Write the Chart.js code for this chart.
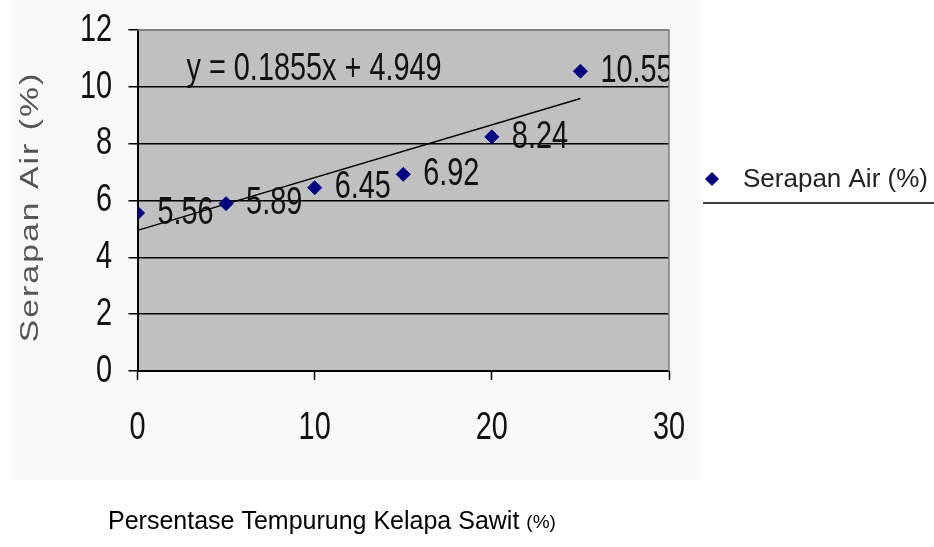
<!DOCTYPE html>
<html>
<head>
<meta charset="utf-8">
<script src="https://cdn.jsdelivr.net/npm/chart.js@4.4.1/dist/chart.umd.min.js"></script>
<style>
  html, body { margin: 0; padding: 0; background: #fff; }
  #wrap { width: 934px; height: 547px; }
</style>
</head>
<body>
<div id="wrap"><canvas id="myChart" width="934" height="547"></canvas></div>
<script>
// data
const kadarTempurung = [0, 5, 10, 15, 20, 25];
const serapanAir = [5.56, 5.89, 6.45, 6.92, 8.24, 10.55];
const trenX = [0, 25];
const trenY = [4.949, 9.5865];
const persamaan = 'y = 0.1855x + 4.949';
const judulX = 'Persentase Tempurung Kelapa Sawit';
const judulY = 'Serapan Air (%)';
const namaSeri = 'Serapan Air (%)';

const huruf = '"Liberation Sans", Arial, sans-serif';
const hurufAngka = '39px ' + huruf;
const sempit = 0.74;   // the original picture is squeezed sideways

// narrow text (tick labels, value labels, equation)
function tulisSempit(ctx, teks, x, y, align) {
    ctx.save();
    ctx.translate(x, y);
    ctx.scale(sempit, 1);
    ctx.textAlign = align;
    ctx.fillText(teks, 0, 0);
    ctx.restore();
}

const latar = {
    id: 'latar',
    beforeDraw(chart) {
        const { ctx, chartArea: a } = chart;
        ctx.save();
        ctx.fillStyle = '#ffffff';
        ctx.fillRect(0, 0, chart.width, chart.height);
        ctx.fillStyle = '#f9f9f9';
        ctx.fillRect(11, 0, 690, 480);
        ctx.fillStyle = '#c0c0c0';
        ctx.fillRect(a.left, a.top, a.right - a.left, a.bottom - a.top);
        ctx.restore();
    },
    beforeDatasetsDraw(chart) {
        const { ctx, chartArea: a } = chart;
        ctx.save();
        ctx.strokeStyle = '#808080';
        ctx.lineWidth = 1.5;
        ctx.beginPath();
        ctx.moveTo(a.left, a.top);
        ctx.lineTo(a.right, a.top);
        ctx.lineTo(a.right, a.bottom);
        ctx.stroke();

        // tick labels
        ctx.font = hurufAngka;
        ctx.fillStyle = '#111';
        ctx.textBaseline = 'middle';
        const sx = chart.scales.x;
        const sy = chart.scales.y;
        sx.ticks.forEach(t => {
            tulisSempit(ctx, String(t.value), sx.getPixelForValue(t.value), 428, 'center');
        });
        sy.ticks.forEach(t => {
            tulisSempit(ctx, String(t.value), 112, sy.getPixelForValue(t.value), 'right');
        });

        // value labels + trendline equation (clipped to plot area)
        ctx.beginPath();
        ctx.rect(a.left, a.top, a.right - a.left, a.bottom - a.top);
        ctx.clip();
        chart.getDatasetMeta(0).data.forEach((pt, i) => {
            tulisSempit(ctx, serapanAir[i].toFixed(2), pt.x + 20, pt.y, 'left');
        });
        tulisSempit(ctx, persamaan, a.left + 49, a.top + 39, 'left');
        ctx.restore();
    },
    afterDraw(chart) {
        const ctx = chart.ctx;
        ctx.save();
        // x title
        ctx.fillStyle = '#000';
        ctx.textBaseline = 'middle';
        ctx.textAlign = 'left';
        ctx.font = '25px ' + huruf;
        const teks = judulX + ' ';
        ctx.fillText(teks, 108, 522);
        const w = ctx.measureText(teks).width;
        ctx.font = '19px ' + huruf;
        ctx.fillText('(%)', 108 + w, 523);

        // y title (stretched along its length like the original)
        ctx.save();
        ctx.translate(31, 207);
        ctx.rotate(-Math.PI / 2);
        ctx.scale(1.35, 1);
        ctx.fillStyle = '#555';
        ctx.font = '25px ' + huruf;
        ctx.letterSpacing = '1.5px';
        ctx.textAlign = 'center';
        ctx.fillText(judulY, 0, 0);
        ctx.restore();

        // legend
        ctx.fillStyle = '#000080';
        ctx.strokeStyle = '#000080';
        Chart.helpers.drawPoint(ctx, { pointStyle: 'rectRot', radius: 6.5, borderWidth: 1 }, 712, 179);
        ctx.fillStyle = '#222';
        ctx.font = '26px ' + huruf;
        ctx.textAlign = 'left';
        ctx.fillText(namaSeri, 743, 180);
        ctx.strokeStyle = '#000';
        ctx.lineWidth = 1.5;
        ctx.beginPath();
        ctx.moveTo(703, 203);
        ctx.lineTo(934, 203);
        ctx.stroke();
        ctx.restore();
    }
};

const ctx = document.getElementById('myChart').getContext('2d');

const myChart = new Chart(ctx, {
    type: 'scatter',
    data: {
        datasets: [{
                label: namaSeri,
                data: kadarTempurung.map((x, i) => ({ x: x, y: serapanAir[i] })),
                pointStyle: 'rectRot',
                pointRadius: 7,
                pointHoverRadius: 7,
                backgroundColor: '#000080',
                borderColor: '#000080',
                borderWidth: 1,
            },
            {
                label: 'Linear (' + namaSeri + ')',
                data: trenX.map((x, i) => ({ x: x, y: trenY[i] })),
                showLine: true,
                pointRadius: 0,
                borderColor: '#000',
                borderWidth: 1.5,
            }
        ]
    },
    options: {
        responsive: false,
        animation: false,
        devicePixelRatio: 1,
        layout: { padding: { left: 0, top: 30, right: 265, bottom: 0 } },
        plugins: {
            legend: { display: false },
            tooltip: { enabled: false },
        },
        scales: {
            x: {
                type: 'linear',
                min: 0,
                max: 30,
                afterFit: (scale) => { scale.height = 176; },
                ticks: { stepSize: 10, display: false },
                grid: {
                    drawOnChartArea: false,
                    tickLength: 9,
                    tickColor: '#000',
                    tickWidth: 1.5,
                },
                border: { color: '#000', width: 2 },
            },
            y: {
                min: 0,
                max: 12,
                afterFit: (scale) => { scale.width = 137.5; },
                ticks: { stepSize: 2, display: false },
                grid: {
                    color: (c) => c.tick && c.tick.value === 12 ? '#808080' : '#000',
                    lineWidth: 1.5,
                    tickLength: 9,
                    tickColor: '#000',
                    tickWidth: 1.5,
                },
                border: { color: '#000', width: 2 },
            }
        }
    },
    plugins: [latar]
});
</script>
</body>
</html>
